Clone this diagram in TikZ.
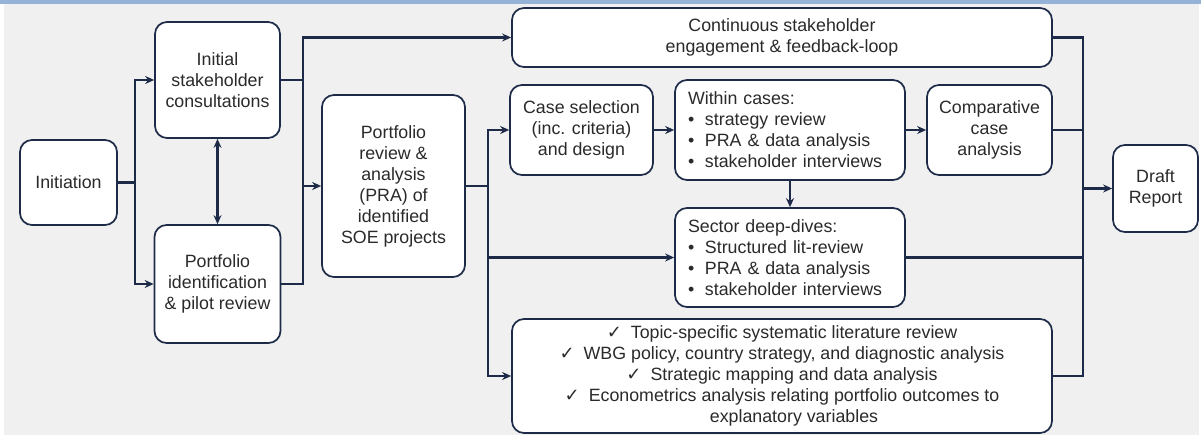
\documentclass[tikz,border=0pt]{standalone}
\usepackage{fontspec}
\setmainfont{Liberation Sans}
\newfontfamily\dejavu{DejaVu Sans}
\usetikzlibrary{arrows.meta}
\definecolor{navy}{HTML}{1D2B48}
\definecolor{bg}{HTML}{F0F0F0}
\definecolor{band}{HTML}{95B3D7}
\definecolor{txt}{HTML}{2A2A2A}
\newcommand{\ck}{{\dejavu\fontsize{18}{18}\selectfont ✓}}
\newcommand{\bul}{\makebox[17pt][l]{\textbullet}}
\tikzset{
  box/.style={draw=navy, line width=1.7pt, rounded corners=12pt, fill=white,
    text=txt, font=\fontsize{17.8}{21}\selectfont, align=center, inner sep=0pt},
  ln/.style={draw=navy, line width=2.2pt},
  arr/.style={ln, -{Stealth[length=9pt,width=8pt]}},
  darr/.style={ln, {Stealth[length=9pt,width=8pt]}-{Stealth[length=9pt,width=8pt]}}
}
\begin{document}
\begin{tikzpicture}[x=1pt,y=-1pt]
\useasboundingbox (0,0) rectangle (1201,438);
\fill[white] (0,0) rectangle (1201,438);
\fill[bg] (4,4) rectangle (1199,435);
\fill[band] (0,0) rectangle (1201,4);

\node[box, minimum width=97pt, minimum height=85pt] (init) at (68.5,182.5) {Initiation};
\node[box, minimum width=125pt, minimum height=116pt] (isc) at (217.5,80) {Initial\\stakeholder\\consultations};
\node[box, minimum width=126pt, minimum height=118pt] (pid) at (217.5,284) {Portfolio\\identification\\\& pilot review};
\node[box, minimum width=143pt, minimum height=182pt] (pra) at (393.5,186) {Portfolio\\review \&\\analysis\\(PRA) of\\identified\\SOE projects};
\node[box, minimum width=540pt, minimum height=59pt] (cont) at (782,37.5) {Continuous stakeholder\\engagement \& feedback-loop};
\node[box, minimum width=143pt, minimum height=90pt] (case) at (581.5,130) {Case selection\\(inc. criteria)\\and design};
\node[box, minimum width=230pt, minimum height=100pt, align=left, text width=204pt] (within) at (790,130) {Within cases:\\\bul strategy review\\\bul PRA \& data analysis\\\bul stakeholder interviews};
\node[box, minimum width=125pt, minimum height=90pt] (comp) at (989.5,130) {Comparative\\case\\analysis};
\node[box, minimum width=230pt, minimum height=99pt, align=left, text width=204pt] (sector) at (790,257.5) {Sector deep-dives:\\\bul Structured lit-review\\\bul PRA \& data analysis\\\bul stakeholder interviews};
\node[box, minimum width=540pt, minimum height=114pt] (lit) at (782,376) {\ck\hspace{9pt}Topic-specific systematic literature review\\\ck\hspace{9pt}WBG policy, country strategy, and diagnostic analysis\\\ck\hspace{9pt}Strategic mapping and data analysis\\\ck\hspace{9pt}Econometrics analysis relating portfolio outcomes to\\\hspace*{24pt}explanatory variables};
\node[box, minimum width=85pt, minimum height=87pt] (draft) at (1155.5,188.5) {Draft\\Report};

% left fan-out
\coordinate (b0) at (135,182.5);
\draw[ln] (init.east) -- (b0);
\draw[arr] (b0) |- (isc.west);
\draw[arr] (b0) |- (pid.west);
\draw[darr] (isc.south) -- (pid.north);

% to PRA and continuous
\coordinate (b1) at (303,186);
\draw[ln] (isc.east) -| (b1);
\draw[ln] (pid.east) -| (b1);
\draw[arr] (b1) -- (pra.west);
\draw[arr] (isc.east -| b1) |- (cont.west);

% from PRA
\coordinate (b2) at (488,186);
\draw[ln] (pra.east) -- (b2);
\draw[arr] (b2) |- (case.west);
\draw[arr] (b2) |- (sector.west);
\draw[arr] (b2) |- (lit.west);

\draw[arr] (case.east) -- (within.west |- case.east);
\draw[arr] (within.east |- comp.west) -- (comp.west);
\draw[arr] (within.south) -- (sector.north);

% to draft
\coordinate (b3) at (1083,188.5);
\draw[ln] (cont.east) -| (b3);
\draw[ln] (comp.east) -| (b3);
\draw[ln] (sector.east) -| (b3);
\draw[ln] (lit.east) -| (b3);
\draw[arr] (b3) -- (draft.west);
\end{tikzpicture}
\end{document}
